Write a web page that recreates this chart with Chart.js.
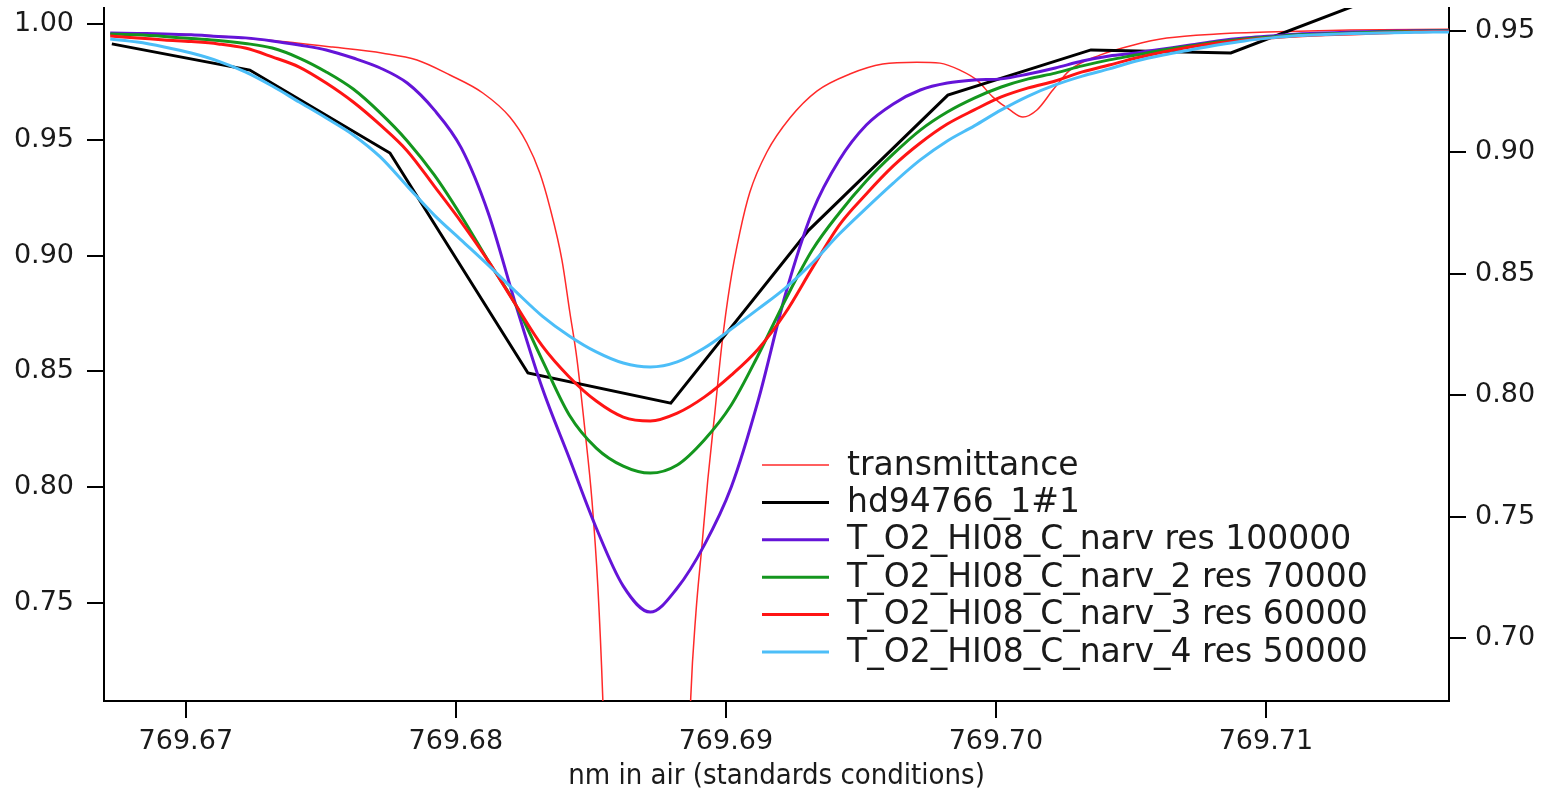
<!DOCTYPE html>
<html>
<head>
<meta charset="utf-8">
<title>O2 line near 769.69 nm</title>
<script src="https://cdn.jsdelivr.net/npm/chart.js@4.4.1/dist/chart.umd.min.js"></script>
<style>
  html, body { margin: 0; padding: 0; background: #fff; }
  #wrap { width: 1555px; height: 791px; }
</style>
</head>
<body>
<div id="wrap"><canvas id="lineChart"></canvas></div>
<script>
"use strict";

// wavelength grid of the convolved model spectra (nm in air)
var modelNm = [769.6672, 769.6682, 769.6692, 769.6702, 769.6712, 769.6722, 769.6732, 769.6742, 769.6752, 769.6762,
    769.6772, 769.6782, 769.6792, 769.6802, 769.6812, 769.6822, 769.6832, 769.6842, 769.6852, 769.6862,
    769.6872, 769.6882, 769.6892, 769.6902, 769.6912, 769.6922, 769.6932, 769.6942, 769.6952, 769.6962,
    769.6972, 769.6982, 769.6992, 769.7002, 769.7012, 769.7022, 769.7032, 769.7042, 769.7052, 769.7062,
    769.7072, 769.7082, 769.7092, 769.7102, 769.7112, 769.7122, 769.7132, 769.7142, 769.7152, 769.7162, 769.7168];

var res100000 = [0.9961, 0.9959, 0.9957, 0.9953, 0.9946, 0.9940, 0.9927, 0.9909, 0.9888, 0.9853,
    0.9810, 0.9745, 0.9629, 0.9465, 0.9184, 0.8795, 0.8428, 0.8126, 0.7824, 0.7573,
    0.7461, 0.7565, 0.7750, 0.8001, 0.8376, 0.8830, 0.9188, 0.9413, 0.9564, 0.9655,
    0.9715, 0.9745, 0.9758, 0.9763, 0.9784, 0.9810, 0.9840, 0.9862, 0.9875, 0.9892,
    0.9909, 0.9927, 0.9940, 0.9948, 0.9957, 0.9961, 0.9965, 0.9968, 0.9970, 0.9972, 0.9972];

var res70000 = [0.9957, 0.9953, 0.9946, 0.9937, 0.9929, 0.9916, 0.9896, 0.9853, 0.9793, 0.9719,
    0.9616, 0.9495, 0.9348, 0.9171, 0.8977, 0.8791, 0.8549, 0.8312, 0.8169, 0.8091,
    0.8061, 0.8096, 0.8204, 0.8355, 0.8571, 0.8808, 0.9024, 0.9184, 0.9322, 0.9439,
    0.9542, 0.9620, 0.9680, 0.9728, 0.9763, 0.9788, 0.9819, 0.9845, 0.9866, 0.9888,
    0.9905, 0.9922, 0.9935, 0.9944, 0.9953, 0.9957, 0.9961, 0.9965, 0.9968, 0.9970, 0.9970];

var res60000 = [0.9948, 0.9940, 0.9931, 0.9924, 0.9914, 0.9896, 0.9858, 0.9814, 0.9745, 0.9663,
    0.9564, 0.9452, 0.9300, 0.9145, 0.8977, 0.8791, 0.8610, 0.8476, 0.8372, 0.8303,
    0.8286, 0.8320, 0.8389, 0.8484, 0.8597, 0.8752, 0.8946, 0.9132, 0.9266, 0.9387,
    0.9486, 0.9568, 0.9629, 0.9685, 0.9724, 0.9754, 0.9793, 0.9823, 0.9853, 0.9879,
    0.9901, 0.9918, 0.9931, 0.9940, 0.9948, 0.9953, 0.9957, 0.9961, 0.9965, 0.9968, 0.9968];

var res50000 = [0.9935, 0.9922, 0.9901, 0.9875, 0.9840, 0.9793, 0.9732, 0.9663, 0.9594, 0.9521,
    0.9426, 0.9300, 0.9175, 0.9067, 0.8959, 0.8847, 0.8739, 0.8653, 0.8584, 0.8536,
    0.8519, 0.8541, 0.8601, 0.8683, 0.8770, 0.8860, 0.8968, 0.9093, 0.9205, 0.9313,
    0.9413, 0.9495, 0.9560, 0.9629, 0.9689, 0.9737, 0.9775, 0.9806, 0.9840, 0.9866,
    0.9888, 0.9909, 0.9927, 0.9940, 0.9950, 0.9955, 0.9959, 0.9961, 0.9963, 0.9965, 0.9965];

// observed spectrum hd94766_1#1 (one point per detector pixel)
var starNm = [769.66726, 769.67237, 769.67756, 769.68267, 769.68796, 769.69307, 769.69822, 769.70352, 769.70870, 769.71385];
var starFlux = [0.9914, 0.9801, 0.9443, 0.8493, 0.8363, 0.9110, 0.9693, 0.9888, 0.9875, 1.0104];

// high resolution telluric transmittance (right axis)
var transNm = [769.66726, 769.67052, 769.67300, 769.67544, 769.67730, 769.67856, 769.67978, 769.68100, 769.68200, 769.68263,
    769.68311, 769.68348, 769.68393, 769.68422, 769.68448, 769.68478, 769.68504, 769.68526, 769.68544, 769.68578,
    769.68707, 769.68837, 769.68870, 769.68889, 769.68911, 769.68933, 769.68959, 769.68985, 769.69015, 769.69052,
    769.69089, 769.69152, 769.69237, 769.69337, 769.69459, 769.69581, 769.69707, 769.69793, 769.69867, 769.69930,
    769.69989, 769.70052, 769.70100, 769.70152, 769.70211, 769.70274, 769.70385, 769.70507, 769.70633, 769.70819,
    769.71004, 769.71311, 769.71678];
var transmittance = [0.9492, 0.9484, 0.9463, 0.9434, 0.9409, 0.9381, 0.9319, 0.9245, 0.9146, 0.9039,
    0.8915, 0.8775, 0.8557, 0.8343, 0.8153, 0.7857, 0.7568, 0.7210, 0.6757, 0.5500,
    0.4500, 0.5500, 0.6757, 0.7103, 0.7375, 0.7651, 0.7927, 0.8207, 0.8454, 0.8672,
    0.8837, 0.9002, 0.9142, 0.9253, 0.9323, 0.9364, 0.9372, 0.9368, 0.9339, 0.9298,
    0.9228, 0.9175, 0.9146, 0.9175, 0.9257, 0.9339, 0.9401, 0.9442, 0.9471, 0.9488,
    0.9496, 0.9504, 0.9508];

var xTicks = [769.67, 769.68, 769.69, 769.70, 769.71];
var yLeftTicks = [0.75, 0.80, 0.85, 0.90, 0.95, 1.00];
var yRightTicks = [0.70, 0.75, 0.80, 0.85, 0.90, 0.95];

var seriesLabels = ['transmittance', 'hd94766_1#1', 'T_O2_HI08_C_narv res 100000',
    'T_O2_HI08_C_narv_2 res 70000', 'T_O2_HI08_C_narv_3 res 60000', 'T_O2_HI08_C_narv_4 res 50000'];

var telluricChart = function () {
    var tickFont = { family: 'DejaVu Sans', size: 27 };
    var inkColor = '#1a1a1a';

    var toPoints = function (xs, ys) {
        return xs.map(function (x, i) { return { x: x, y: ys[i] }; });
    };

    var fixedTicks = function (list) {
        return function (scale) {
            scale.ticks = list.map(function (v) { return { value: v }; });
        };
    };

    // keep the plot frame where the original has it, labels may overhang
    var fixHeight = function (h) {
        return function (scale) {
            scale.height = h;
            scale.paddingLeft = 0;
            scale.paddingRight = 0;
        };
    };
    var fixWidth = function (w) {
        return function (scale) {
            scale.width = w;
            scale.paddingTop = 0;
            scale.paddingBottom = 0;
        };
    };

    // legend drawn inside the plot, like the original figure
    var insideLegend = {
        id: 'insideLegend',
        afterDatasetsDraw: function (chart) {
            var ctx = chart.ctx;
            ctx.save();
            ctx.font = '33px "DejaVu Sans"';
            ctx.textBaseline = 'middle';
            ctx.fillStyle = inkColor;
            chart.data.datasets.forEach(function (ds, i) {
                var y = 465 + i * 37.4;
                ctx.beginPath();
                ctx.strokeStyle = ds.borderColor;
                ctx.lineWidth = ds.borderWidth;
                ctx.moveTo(762, y);
                ctx.lineTo(829, y);
                ctx.stroke();
                ctx.fillText(ds.label, 847, y + 1);
            });
            ctx.restore();
        }
    };

    var makeLine = function (label, data, color, width, axis, order, smooth) {
        return {
            label: label,
            data: data,
            borderColor: color,
            borderWidth: width,
            pointRadius: 0,
            fill: false,
            yAxisID: axis,
            order: order,
            tension: 0,
            cubicInterpolationMode: smooth ? 'monotone' : 'default'
        };
    };

    var init = function () {
        var ctx = document.getElementById('lineChart').getContext('2d');
        new Chart(ctx, {
            type: 'line',
            data: {
                datasets: [
                    makeLine(seriesLabels[0], toPoints(transNm, transmittance), '#ff2a2a', 1.5, 'y2', 6, true),
                    makeLine(seriesLabels[1], toPoints(starNm, starFlux), '#000000', 3, 'y', 5, false),
                    makeLine(seriesLabels[2], toPoints(modelNm, res100000), '#6414d8', 3, 'y', 4, true),
                    makeLine(seriesLabels[3], toPoints(modelNm, res70000), '#14961e', 3, 'y', 3, true),
                    makeLine(seriesLabels[4], toPoints(modelNm, res60000), '#ff1414', 3, 'y', 2, true),
                    makeLine(seriesLabels[5], toPoints(modelNm, res50000), '#4cbef8', 3, 'y', 1, true)
                ]
            },
            options: {
                responsive: true,
                maintainAspectRatio: false,
                animation: false,
                parsing: false,
                layout: { padding: { top: 8, left: 0, right: 0, bottom: 0 } },
                plugins: {
                    legend: { display: false },
                    tooltip: { enabled: false }
                },
                scales: {
                    x: {
                        type: 'linear',
                        min: 769.66697,
                        max: 769.71678,
                        afterBuildTicks: fixedTicks(xTicks),
                        afterFit: fixHeight(90),
                        border: { display: true, color: '#000', width: 2 },
                        grid: { drawOnChartArea: false, drawTicks: true, tickLength: 17, color: '#000', lineWidth: 2 },
                        ticks: {
                            font: tickFont,
                            color: inkColor,
                            padding: 8,
                            maxRotation: 0,
                            callback: function (v) { return v.toFixed(2); }
                        },
                        title: {
                            display: true,
                            text: 'nm in air (standards conditions)',
                            font: { family: 'DejaVu Sans Condensed', size: 29 },
                            color: inkColor,
                            padding: { top: 0, bottom: -3 }
                        }
                    },
                    y: {
                        type: 'linear',
                        position: 'left',
                        min: 0.7077,
                        max: 1.0069,
                        afterBuildTicks: fixedTicks(yLeftTicks),
                        afterFit: fixWidth(104),
                        border: { display: true, color: '#000', width: 2 },
                        grid: { drawOnChartArea: false, drawTicks: true, tickLength: 17, color: '#000', lineWidth: 2 },
                        ticks: {
                            font: tickFont,
                            color: inkColor,
                            padding: 13,
                            callback: function (v) { return v.toFixed(2); }
                        }
                    },
                    y2: {
                        type: 'linear',
                        position: 'right',
                        min: 0.6741,
                        max: 0.9595,
                        afterBuildTicks: fixedTicks(yRightTicks),
                        afterFit: fixWidth(106),
                        border: { display: true, color: '#000', width: 2 },
                        grid: { drawOnChartArea: false, drawTicks: true, tickLength: 17, color: '#000', lineWidth: 2 },
                        ticks: {
                            font: tickFont,
                            color: inkColor,
                            padding: 9,
                            callback: function (v) { return v.toFixed(2); }
                        }
                    }
                }
            },
            plugins: [insideLegend]
        });
    };

    return {
        init: function () {
            init();
        }
    };
}();

telluricChart.init();
</script>
</body>
</html>
